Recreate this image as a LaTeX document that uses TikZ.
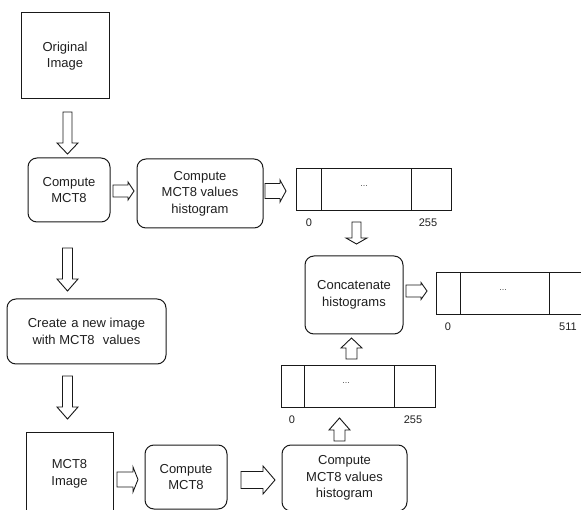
\documentclass[tikz,border=0pt]{standalone}
\usepackage{fontspec}
\setmainfont{Liberation Sans}
\usetikzlibrary{calc}
\newcommand\blockarrow[5]{%
  \coordinate (bahead) at ($(#2)!#5!(#1)$);
  \draw[barrow] ($(#1)!#3!90:(#2)$) -- ($(bahead)!#3!90:(#2)$) -- ($(bahead)!#4!90:(#2)$) -- (#2)
     -- ($(bahead)!#4!-90:(#2)$) -- ($(bahead)!#3!-90:(#2)$) -- ($(#1)!#3!-90:(#2)$) -- cycle;}
\tikzset{
  txt/.style={font=\fontsize{13}{16.5}\selectfont, align=center, text=black!88},
  sqbox/.style={draw=black!90, line width=1pt, txt, inner sep=0pt},
  rbox/.style={sqbox, rounded corners=9pt},
  cell/.style={draw=black!90, line width=1pt, inner sep=0pt},
  lbl/.style={font=\fontsize{11}{12}\selectfont, text=black!88, inner sep=0pt},
  dots/.style={font=\fontsize{9}{10}\selectfont, text=black!70, inner sep=0pt},
  barrow/.style={draw=black!90, line width=0.9pt, fill=white, line join=miter}
}
\begin{document}
\begin{tikzpicture}[x=1pt,y=-1pt]
\useasboundingbox (0,0) rectangle (581,510);
\clip (0,0) rectangle (581,510);
% boxes
\node[sqbox, minimum width=88pt, minimum height=86pt] (orig) at (65,56) {Original\\Image};
\node[rbox, minimum width=82pt, minimum height=64pt] (cm1) at (69,190) {Compute\\MCT8};
\node[rbox, minimum width=126pt, minimum height=69pt] (ch1) at (200,193.5) {Compute\\MCT8 values\\histogram};
\node[rbox, minimum width=98pt, minimum height=78pt] (cat) at (354,295) {Concatenate\\histograms};
\node[rbox, minimum width=159pt, minimum height=65pt] (new) at (86.5,331.5) {Create\hspace{0.35em}a new image\\with MCT8\hspace{0.35em} values};
\node[sqbox, minimum width=87pt, minimum height=100pt, anchor=north] (mimg) at (69.5,432) {};
\node[txt] (mimgt) at (69.5,474) {MCT8\\Image};
\node[rbox, minimum width=82pt, minimum height=64pt] (cm2) at (186,477) {Compute\\MCT8};
\node[rbox, minimum width=125pt, minimum height=66pt] (ch2) at (344.5,478) {Compute\\MCT8 values\\histogram};
% histogram 1
\node[cell, minimum width=155pt, minimum height=42pt] (h1) at (373.5,190) {};
\draw[line width=1pt, black!90] (321,169) -- (321,211) (411,169) -- (411,211);
\node[dots] (h1d) at (364,186) {...};
\node[lbl] (h1a) at (309,223) {0};
\node[lbl] (h1b) at (428,223) {255};
% histogram 2
\node[cell, minimum width=153pt, minimum height=42pt] (h2) at (512.5,294) {};
\draw[line width=1pt, black!90] (460,273) -- (460,315) (549,273) -- (549,315);
\node[dots] (h2d) at (503,290) {...};
\node[lbl] (h2a) at (448,327) {0};
\node[lbl] (h2b) at (568,327) {511};
% histogram 3
\node[cell, minimum width=154pt, minimum height=42pt] (h3) at (358,387) {};
\draw[line width=1pt, black!90] (304,366) -- (304,408) (394,366) -- (394,408);
\node[dots] (h3d) at (346,383) {...};
\node[lbl] (h3a) at (292,420) {0};
\node[lbl] (h3b) at (413,420) {255};
% arrow end points
\coordinate (a1s) at (67.5,112); \coordinate (a1e) at (67.5,154);
\coordinate (a2s) at (113,191); \coordinate (a2e) at (134,191);
\coordinate (a3s) at (265,191); \coordinate (a3e) at (286,191);
\coordinate (a4s) at (356.5,222); \coordinate (a4e) at (356.5,244);
\coordinate (a5s) at (406,291); \coordinate (a5e) at (427,291);
\coordinate (a6s) at (351.5,359); \coordinate (a6e) at (351.5,338);
\coordinate (a7s) at (339.5,441); \coordinate (a7e) at (339.5,418);
\coordinate (a8s) at (67.5,248); \coordinate (a8e) at (67.5,291);
\coordinate (a9s) at (67.5,376); \coordinate (a9e) at (67.5,419);
\coordinate (a10s) at (117,479.5); \coordinate (a10e) at (138,479.5);
\coordinate (a11s) at (241,480); \coordinate (a11e) at (275,480);
\blockarrow{a1s}{a1e}{4.5pt}{10.5pt}{11pt}
\blockarrow{a2s}{a2e}{6pt}{9pt}{6pt}
\blockarrow{a3s}{a3e}{7.5pt}{11pt}{6pt}
\blockarrow{a4s}{a4e}{4.5pt}{10.5pt}{6pt}
\blockarrow{a5s}{a5e}{6pt}{8.5pt}{6pt}
\blockarrow{a6s}{a6e}{5.5pt}{10.5pt}{10pt}
\blockarrow{a7s}{a7e}{5.5pt}{10.5pt}{12pt}
\blockarrow{a8s}{a8e}{5pt}{10.5pt}{12pt}
\blockarrow{a9s}{a9e}{5pt}{10.5pt}{12pt}
\blockarrow{a10s}{a10e}{7.5pt}{12.5pt}{5pt}
\blockarrow{a11s}{a11e}{8.5pt}{14pt}{12pt}
\end{tikzpicture}
\end{document}
